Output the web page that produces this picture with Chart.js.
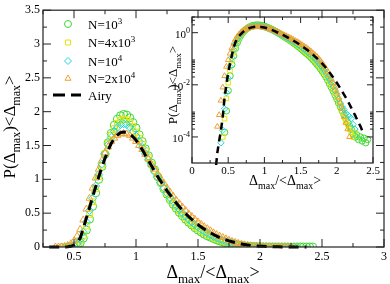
<!DOCTYPE html>
<html>
<head>
<meta charset="utf-8">
<script src="https://cdn.jsdelivr.net/npm/chart.js@4.4.0/dist/chart.umd.min.js"></script>
<style>
  html, body { margin: 0; padding: 0; background: #fff; }
  #wrap { position: relative; width: 390px; height: 284px; }
  #main { position: absolute; left: 0; top: 0; }
  #inset { position: absolute; left: 158px; top: 7px; }
</style>
</head>
<body>
<div id="wrap">
  <canvas id="main" width="390" height="284"></canvas>
  <canvas id="inset" width="230" height="186"></canvas>
</div>
<script>
// dados: P(Dmax)<Dmax> em funcao de Dmax/<Dmax>
const xGrid = [0.35,0.375,0.4,0.425,0.45,0.475,0.5,0.525,0.55,0.575,
  0.6,0.625,0.65,0.675,0.7,0.725,0.75,0.775,0.8,0.825,
  0.85,0.875,0.9,0.925,0.95,0.975,1.0,1.025,1.05,1.075,
  1.1,1.125,1.15,1.175,1.2,1.225,1.25,1.275,1.3,1.325,
  1.35,1.375,1.4,1.425,1.45,1.475,1.5,1.525,1.55,1.575,
  1.6,1.625,1.65,1.675,1.7,1.725,1.75,1.775,1.8,1.825,
  1.85,1.875,1.9,1.925,1.95,1.975,2.0,2.025,2.05,2.075,
  2.1,2.125,2.15,2.175,2.2,2.225,2.25,2.275,2.3,2.325,
  2.35,2.375,2.4,2.425];

// N=10^3
const pN1e3 = [null,null,null,null,0.00015,0.001,0.006,0.022,0.06,0.13,
  0.25,0.41,0.60,0.80,1.00,1.19,1.37,1.54,1.68,1.80,
  1.89,1.94,1.96,1.95,1.91,1.84,1.76,1.66,1.56,1.45,
  1.35,1.24,1.14,1.04,0.95,0.86,0.78,0.70,0.63,0.57,
  0.51,0.46,0.41,0.365,0.325,0.285,0.25,0.22,0.19,0.165,
  0.145,0.125,0.105,0.09,0.075,0.062,0.051,0.041,0.033,0.026,
  0.02,0.015,0.011,0.008,0.0058,0.0041,0.0029,0.002,0.0014,0.001,
  0.0007,0.0005,0.00035,0.00026,0.0002,0.00013,0.0001,0.00012,0.00008,0.0001,
  0.00007,0.00009,0.00006,0.00008];

// N=4x10^3
const pN4e3 = [null,null,null,0.0001,0.0005,0.003,0.012,0.036,0.085,0.17,
  0.31,0.48,0.67,0.86,1.04,1.21,1.38,1.53,1.65,1.75,
  1.83,1.87,1.89,1.88,1.84,1.78,1.70,1.61,1.52,1.42,
  1.32,1.22,1.13,1.04,0.95,0.87,0.79,0.72,0.65,0.59,
  0.535,0.48,0.43,0.385,0.345,0.305,0.27,0.24,0.21,0.185,
  0.16,0.14,0.12,0.10,0.085,0.071,0.058,0.047,0.038,0.030,
  0.023,0.018,0.013,0.0095,0.0068,0.0048,0.0033,0.0023,0.0015,0.001,
  0.0006,0.0004,0.0003,0.0002,0.00015,0.0001,0.00015,0.0001,0,null,
  null,null,null,null];

// N=10^4
const pN1e4 = [null,null,0.00006,0.00018,0.0012,0.005,0.018,0.05,0.11,0.22,
  0.37,0.54,0.72,0.90,1.07,1.23,1.38,1.51,1.62,1.71,
  1.77,1.81,1.82,1.81,1.77,1.71,1.64,1.56,1.47,1.38,
  1.29,1.20,1.11,1.03,0.95,0.87,0.80,0.73,0.67,0.61,
  0.555,0.50,0.455,0.41,0.37,0.33,0.295,0.26,0.23,0.205,
  0.18,0.155,0.135,0.115,0.098,0.082,0.068,0.056,0.045,0.036,
  0.028,0.021,0.016,0.012,0.0085,0.006,0.0042,0.0029,0.002,0.0014,
  0.0011,0.0008,0.0007,0.0006,0.0005,0.0003,0.0002,0.0001,0,null,
  null,null,null,null];

// N=2x10^4
const pN2e4 = [0.00025,0.0007,0.0025,0.008,0.022,0.05,0.09,0.16,0.26,0.40,
  0.56,0.72,0.87,1.02,1.15,1.28,1.39,1.48,1.56,1.61,
  1.65,1.67,1.68,1.67,1.65,1.61,1.56,1.50,1.44,1.37,
  1.30,1.22,1.15,1.08,1.01,0.94,0.87,0.81,0.75,0.69,
  0.64,0.59,0.54,0.49,0.45,0.41,0.37,0.335,0.30,0.27,
  0.24,0.21,0.185,0.16,0.14,0.12,0.10,0.083,0.068,0.054,
  0.042,0.032,0.024,0.017,0.012,0.008,0.0052,0.0033,0.002,0.0012,
  0.0006,0.00035,0.0002,0.0001,0,0,0,null,null,null,
  null,null,null,null];

// curva de Airy (tracejada)
const airyX = [0.3,0.325,0.35,0.375,0.4,0.425,0.45,0.475,0.5,0.525,
  0.55,0.575,0.6,0.625,0.65,0.675,0.7,0.725,0.75,0.775,
  0.8,0.825,0.85,0.875,0.9,0.925,0.95,0.975,1.0,1.025,
  1.05,1.075,1.1,1.125,1.15,1.175,1.2,1.225,1.25,1.275,
  1.3,1.325,1.35,1.375,1.4,1.425,1.45,1.475,1.5,1.525,
  1.55,1.575,1.6,1.625,1.65,1.675,1.7,1.725,1.75,1.775,
  1.8,1.825,1.85,1.875,1.9,1.925,1.95,1.975,2.0,2.025,
  2.05,2.075,2.1,2.125,2.15,2.175,2.2,2.225,2.25,2.275,
  2.3,2.325,2.35,2.375];
const airyY = [0.000001,0.000005,0.000025,0.00007,0.00018,0.0006,0.0032,0.01,0.029,0.063,
  0.13,0.27,0.43,0.58,0.74,0.89,1.04,1.18,1.31,1.43,
  1.53,1.60,1.655,1.69,1.70,1.695,1.67,1.63,1.58,1.51,
  1.44,1.36,1.28,1.20,1.12,1.04,0.97,0.90,0.83,0.77,
  0.71,0.65,0.595,0.545,0.495,0.45,0.41,0.37,0.33,0.295,
  0.265,0.235,0.21,0.185,0.16,0.14,0.12,0.105,0.09,0.077,
  0.065,0.054,0.045,0.037,0.030,0.024,0.019,0.015,0.012,0.0093,
  0.0072,0.0055,0.0042,0.0032,0.0024,0.0018,0.0013,0.00095,0.0007,0.0005,
  0.00036,0.00026,0.00018,0.00013];

const legendBase = ['N=10', 'N=4x10', 'N=10', 'N=2x10', 'Airy'];
const legendSup = ['3', '3', '4', '4', ''];

// ticks
const mainXTicks = [0.5, 1, 1.5, 2, 2.5, 3];
const mainXMinor = [0.25, 0.75, 1.25, 1.75, 2.25, 2.75];
const mainYTicks = [0, 0.5, 1, 1.5, 2, 2.5, 3, 3.5];
const mainYMinor = [0.25, 0.75, 1.25, 1.75, 2.25, 2.75, 3.25];
const insetXTicks = [0, 0.5, 1, 1.5, 2, 2.5];
const insetXMinor = [0.25, 0.75, 1.25, 1.75, 2.25];
const insetYTicks = [1, 0.01, 0.0001];
const insetYExp = ['0', '-2', '-4'];
const insetYMinor = [2,3,4, 0.02,0.03,0.04,0.05,0.06,0.07,0.08,0.09,
  0.0002,0.0003,0.0004,0.0005,0.0006,0.0007,0.0008,0.0009];

const cores = ['#40d830', '#e6e600', '#20d8e0', '#f0a030'];
const estilos = ['circle', 'rect', 'rectRot', 'triangle'];
const serif = '"Liberation Serif", "Times New Roman", serif';

function pontos(xs, ys, soPositivos) {
  const out = [];
  xs.forEach((x, i) => {
    const y = ys[i];
    if (y === null) return;
    if (soPositivos && !(y > 0)) return;
    out.push({ x: x, y: y });
  });
  return out;
}

// texto com subscritos / sobrescritos (canvas nao faz isso sozinho)
function textoRico(ctx, partes, cx, cy, ang, alinhar) {
  ctx.save();
  ctx.translate(cx, cy);
  ctx.rotate(ang);
  ctx.fillStyle = '#000';
  ctx.textBaseline = 'alphabetic';
  ctx.textAlign = 'left';
  let w = 0;
  partes.forEach(p => { ctx.font = p.s + 'px ' + serif; w += ctx.measureText(p.t).width; });
  let x = alinhar === 'right' ? -w : (alinhar === 'left' ? 0 : -w / 2);
  partes.forEach(p => {
    ctx.font = p.s + 'px ' + serif;
    ctx.fillText(p.t, x, p.dy || 0);
    x += ctx.measureText(p.t).width;
  });
  ctx.restore();
}

function rotuloP(big, small, d) {
  return [{t: 'P(Δ', s: big}, {t: 'max', s: small, dy: d}, {t: ')<Δ', s: big},
    {t: 'max', s: small, dy: d}, {t: '>', s: big}];
}
function rotuloX(big, small, d) {
  return [{t: 'Δ', s: big}, {t: 'max', s: small, dy: d}, {t: '/<Δ', s: big},
    {t: 'max', s: small, dy: d}, {t: '>', s: big}];
}

// moldura com ticks para dentro (estilo xmgrace)
function moldura(chart, t, major, minor) {
  const { ctx, chartArea: a, scales } = chart;
  ctx.save();
  ctx.strokeStyle = '#222';
  ctx.lineWidth = 1.2;
  ctx.strokeRect(a.left, a.top, a.right - a.left, a.bottom - a.top);
  ctx.lineWidth = 1;
  const linha = (x1, y1, x2, y2) => { ctx.beginPath(); ctx.moveTo(x1, y1); ctx.lineTo(x2, y2); ctx.stroke(); };
  const desenhaX = (vals, L) => vals.forEach(v => {
    const px = scales.x.getPixelForValue(v);
    linha(px, a.bottom, px, a.bottom - L);
    linha(px, a.top, px, a.top + L);
  });
  const desenhaY = (vals, L) => vals.forEach(v => {
    const py = scales.y.getPixelForValue(v);
    if (py < a.top - 0.5 || py > a.bottom + 0.5) return;
    linha(a.left, py, a.left + L, py);
    linha(a.right, py, a.right - L, py);
  });
  desenhaX(t.xMaj, major); desenhaX(t.xMin, minor);
  desenhaY(t.yMaj, major); desenhaY(t.yMin, minor);
  ctx.restore();
}

function datasets(raio, larg, dash, log) {
  const series = [pN2e4, pN1e4, pN4e3, pN1e3];
  const idx = [3, 2, 1, 0];
  const ds = [{
    label: 'Airy',
    data: pontos(airyX, airyY, log),
    showLine: true,
    borderColor: '#000',
    borderWidth: larg,
    borderDash: dash,
    pointRadius: 0,
    fill: false,
    clip: 2
  }];
  series.forEach((s, k) => {
    const i = idx[k];
    ds.push({
      label: legendBase[i] + legendSup[i],
      data: pontos(xGrid, s, log),
      showLine: false,
      pointStyle: estilos[i],
      pointRadius: raio,
      borderColor: cores[i],
      backgroundColor: 'rgba(0,0,0,0)',
      borderWidth: 1
    });
  });
  return ds;
}

const tickFont = size => ({ family: serif, size: size });
const numero = v => String(Math.round(v * 100) / 100);

// ---------------- grafico principal ----------------
const mainPlugin = {
  id: 'mainDecor',
  afterDraw(chart) {
    const ctx = chart.ctx;
    moldura(chart, { xMaj: mainXTicks, xMin: mainXMinor, yMaj: mainYTicks, yMin: mainYMinor }, 8, 4);
    textoRico(ctx, rotuloX(18, 13, 5), 213, 278, 0);
    textoRico(ctx, rotuloP(17, 12, 5), 15, 127, -Math.PI / 2);

    // legenda
    const linhas = [24, 42.5, 61, 78.5, 95];
    ctx.save();
    linhas.forEach((y, i) => {
      if (i < 4) {
        ctx.strokeStyle = cores[i];
        ctx.fillStyle = 'rgba(0,0,0,0)';
        ctx.lineWidth = 1;
        Chart.helpers.drawPoint(ctx, { pointStyle: estilos[i], radius: 3.5, rotation: 0, borderWidth: 1 }, 68, y);
      } else {
        ctx.strokeStyle = '#000';
        ctx.lineWidth = 3;
        ctx.setLineDash([12, 6]);
        ctx.beginPath(); ctx.moveTo(53, y); ctx.lineTo(81, y); ctx.stroke();
        ctx.setLineDash([]);
      }
      const partes = [{ t: legendBase[i], s: 13 }];
      if (legendSup[i]) partes.push({ t: legendSup[i], s: 9, dy: -5 });
      textoRico(ctx, partes, 88, y + 4.5, 0, 'left');
    });
    ctx.restore();
  }
};

new Chart(document.getElementById('main'), {
  type: 'scatter',
  data: { datasets: datasets(4, 3, [10, 6], false) },
  options: {
    responsive: false,
    animation: false,
    events: [],
    layout: { padding: { left: 0, right: 3, top: 6, bottom: 0 } },
    plugins: { legend: { display: false }, tooltip: { enabled: false } },
    scales: {
      x: {
        type: 'linear', min: 0.25, max: 3,
        afterBuildTicks: s => { s.ticks = mainXTicks.map(v => ({ value: v })); },
        afterFit: s => { s.height = 37; },
        grid: { display: false, drawTicks: false },
        border: { display: false },
        ticks: { font: tickFont(12), color: '#000', padding: 3, maxRotation: 0, callback: numero }
      },
      y: {
        type: 'linear', min: 0, max: 3.5,
        afterBuildTicks: s => { s.ticks = mainYTicks.map(v => ({ value: v })); },
        afterFit: s => { s.width = 43; },
        grid: { display: false, drawTicks: false },
        border: { display: false },
        ticks: { font: tickFont(12), color: '#000', padding: 3, callback: numero }
      }
    }
  },
  plugins: [mainPlugin]
});

// ---------------- grafico inserido (escala log) ----------------
const insetPlugin = {
  id: 'insetDecor',
  afterDraw(chart) {
    const ctx = chart.ctx;
    moldura(chart, { xMaj: insetXTicks, xMin: insetXMinor, yMaj: insetYTicks, yMin: insetYMinor }, 6, 3);
    insetYTicks.forEach((v, i) => {
      const py = chart.scales.y.getPixelForValue(v);
      textoRico(ctx, [{ t: '10', s: 11 }, { t: insetYExp[i], s: 8, dy: -5 }], 32, py + 5, 0, 'right');
    });
    textoRico(ctx, rotuloX(14, 10, 4), 127, 178, 0);
    textoRico(ctx, rotuloP(13, 9, 4), 19, 78, -Math.PI / 2);
  }
};

new Chart(document.getElementById('inset'), {
  type: 'scatter',
  data: { datasets: datasets(3.2, 2.5, [7, 5], true) },
  options: {
    responsive: false,
    animation: false,
    events: [],
    layout: { padding: { left: 0, right: 15, top: 10, bottom: 0 } },
    plugins: { legend: { display: false }, tooltip: { enabled: false } },
    scales: {
      x: {
        type: 'linear', min: 0, max: 2.5,
        afterBuildTicks: s => { s.ticks = insetXTicks.map(v => ({ value: v })); },
        afterFit: s => { s.height = 30; },
        grid: { display: false, drawTicks: false },
        border: { display: false },
        ticks: { font: tickFont(11), color: '#000', padding: 2, maxRotation: 0, callback: numero }
      },
      y: {
        type: 'logarithmic', min: 0.00001, max: 4,
        afterFit: s => { s.width = 34; },
        grid: { display: false, drawTicks: false },
        border: { display: false },
        ticks: { display: false }
      }
    }
  },
  plugins: [insetPlugin]
});
</script>
</body>
</html>
